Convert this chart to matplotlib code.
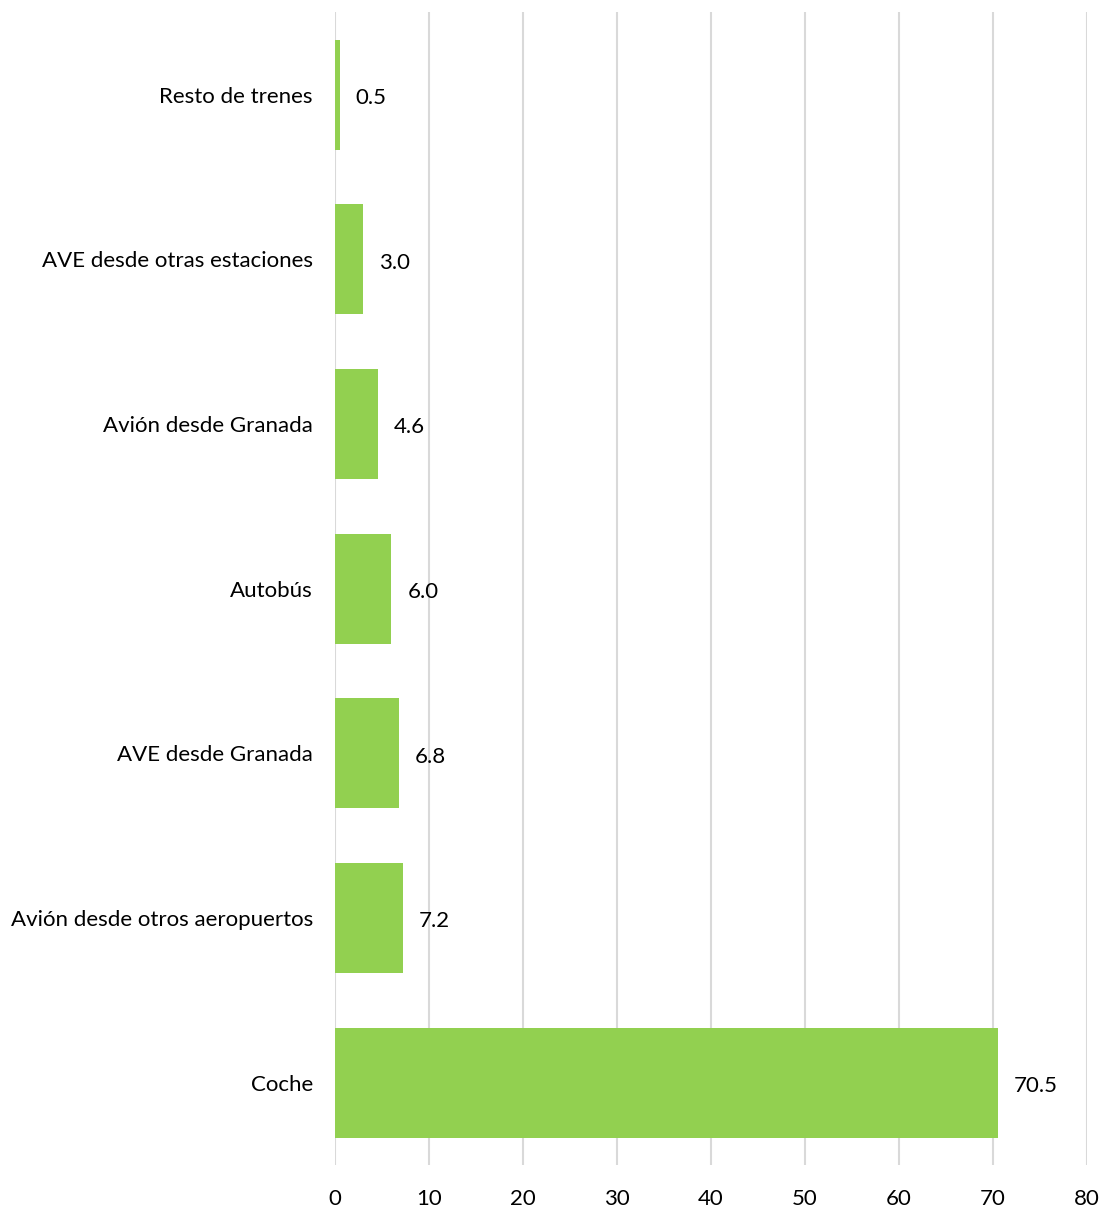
import matplotlib.pyplot as plt

categories = ["Coche", "Avión desde otros aeropuertos", "AVE desde Granada", "Autobús",
              "Avión desde Granada", "AVE desde otras estaciones", "Resto de trenes"]
values = [70.5, 7.2, 6.8, 6.0, 4.6, 3.0, 0.5]
xticks = [0, 10, 20, 30, 40, 50, 60, 70, 80]

plt.rcParams['font.family'] = ['Lato', 'DejaVu Sans']

fig = plt.figure(figsize=(11.01, 12.07), dpi=100)
ax = fig.add_axes([0.3043, 0.0348, 0.683, 0.955])

ypos = range(len(categories))
ax.barh(ypos, values, height=0.667, color="#92D050", zorder=2)
for y, v in zip(ypos, values):
    ax.text(v + 1.7, y - 0.02, f"{v:.1f}", va="center", ha="left", fontsize=16, color="#000000")

ax.set_xlim(0, 80)
ax.set_ylim(-0.5, len(categories) - 0.5)
ax.set_xticks(xticks)
ax.set_yticks(list(ypos))
ax.set_yticklabels(categories)
ax.tick_params(axis="both", length=0, labelsize=16)
ax.tick_params(axis="x", pad=17)
ax.tick_params(axis="y", pad=16)
ax.grid(axis="x", color="#D9D9D9", linewidth=1.5, zorder=0)
ax.set_axisbelow(True)
for s in ax.spines.values():
    s.set_visible(False)

fig.savefig("out.png", dpi=100)
